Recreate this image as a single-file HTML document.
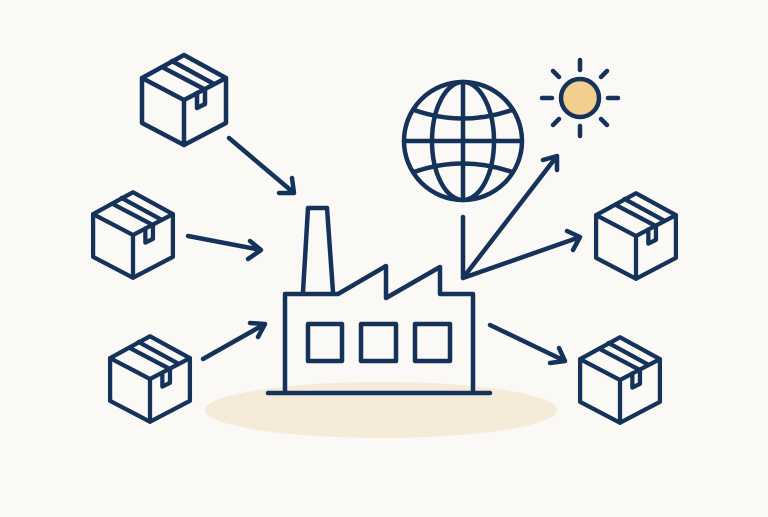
<!DOCTYPE html>
<html><head><style>html,body{margin:0;padding:0;background:#fbf9f5}</style></head><body>
<svg width="768" height="512" viewBox="0 0 768 512" xmlns="http://www.w3.org/2000/svg">
<rect width="768" height="512" fill="#fbf9f5"/>
<defs>
<g id="box" fill="none" stroke="#15325a" stroke-width="4.5" stroke-linejoin="round" stroke-linecap="round">
<path d="M0,-45 L42,-22 L42,23 L0,45 L-42,23 L-42,-22 Z"/>
<path d="M-42,-22 L0,0 L42,-22 M0,0 L0,45"/>
<path d="M-22,-33 L20,-11 M-12,-39 L30,-16"/>
<path d="M13,-7 L13,8 L21,4 L21,-11"/>
</g>
</defs>
<ellipse cx="381" cy="410" rx="176" ry="28" fill="#f5ebd8"/>
<use href="#box" transform="translate(184,100)"/>
<use href="#box" transform="translate(133,235) scale(0.95)"/>
<use href="#box" transform="translate(150,379) scale(0.95)"/>
<use href="#box" transform="translate(636,236) scale(0.95)"/>
<use href="#box" transform="translate(620,380) scale(0.95)"/>
<g fill="none" stroke="#15325a" stroke-width="4.5" stroke-linecap="round" stroke-linejoin="round">
<!-- factory -->
<path d="M303,292 L308,208 L327,208 L333,292"/>
<path d="M285,392 L285,294 L338,294 L386,266 L386,298 L440,267 L440,294 L473,294 L473,392"/>
<path d="M268,393 L490,393"/>
<rect x="308" y="324" width="34" height="37"/>
<rect x="361" y="324" width="35" height="37"/>
<rect x="415" y="324" width="35" height="37"/>
<!-- input arrows -->
<path d="M229,138 L294,193 M292,178 L294,193 L279,193"/>
<path d="M188,236 L261,250 M250,241 L261,250 L248,259"/>
<path d="M203,359 L265,324 M250,323 L265,324 L258,337"/>
<!-- output arrows -->
<path d="M463,217 L463,278 L557,156 M543,160 L557,156 L557,170"/>
<path d="M463,278 L580,237 M567,231 L580,237 L573,250"/>
<path d="M490,325 L565,361 M550,363 L565,361 L559,348"/>
<!-- globe -->
<circle cx="463" cy="141" r="59"/>
<ellipse cx="463" cy="141" rx="31" ry="59"/>
<path d="M463,82 L463,200 M404,141 L522,141"/>
<path d="M414,110 Q463,127 512,110"/>
<path d="M414,172 Q463,155 512,172"/>
<!-- sun -->
<circle cx="580" cy="98" r="19" fill="#f3cf8f"/>
<path d="M580,60 L580,70 M580,126 L580,136 M542,98 L552,98 M608,98 L618,98 M553,71 L559,77 M601,119 L607,125 M607,71 L601,77 M553,125 L559,119"/>
</g>
</svg>
</body></html>
